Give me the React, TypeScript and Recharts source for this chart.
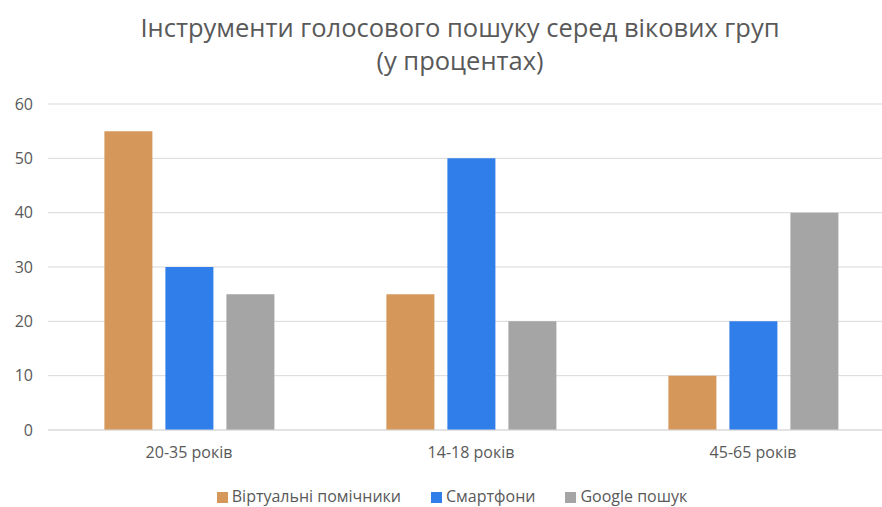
import { BarChart, Bar, XAxis, YAxis, Legend, CartesianGrid } from "recharts";

const categories = ["20-35 років", "14-18 років", "45-65 років"];
const virtualAssistants = [55, 25, 10];
const smartphones = [30, 50, 20];
const googleSearch = [25, 20, 40];
const yTicks = [0, 10, 20, 30, 40, 50, 60];

const data = categories.map((c, i) => ({
  name: c,
  va: virtualAssistants[i],
  sm: smartphones[i],
  gs: googleSearch[i],
}));

const font = "'Open Sans', 'Noto Sans', sans-serif";
const textColor = "#595959";

export default function App() {
  return (
    <div
      style={{
        position: "absolute",
        left: 0,
        top: 0,
        width: 882,
        height: 507,
        background: "#fff",
        fontFamily: font,
        overflow: "hidden",
      }}
    >
      <div
        style={{
          height: 90,
          textAlign: "center",
          color: textColor,
          fontSize: 25.5,
          lineHeight: "33px",
          paddingTop: 11,
          boxSizing: "border-box",
          paddingLeft: 38,
        }}
      >
        <div>Інструменти голосового пошуку серед вікових груп</div>
        <div>(у процентах)</div>
      </div>
      <BarChart
        width={882}
        height={417}
        data={data}
        margin={{ top: 14, right: -12, left: 0, bottom: 0 }}
        barCategoryGap="20%"
        barGap={13}
        style={{ overflow: "hidden" }}
      >
        <CartesianGrid vertical={false} stroke="#d9d9d9" />
        <XAxis
          dataKey="name"
          height={55}
          tickLine={false}
          axisLine={{ stroke: "#d9d9d9" }}
          tick={{ fill: textColor, fontSize: 16, fontFamily: font }}
          tickMargin={11}
        />
        <YAxis
          width={48}
          domain={[0, 60]}
          ticks={yTicks}
          tickLine={false}
          axisLine={false}
          tick={{ fill: textColor, fontSize: 16, fontFamily: font }}
          tickMargin={9}
        />
        <Legend
          verticalAlign="bottom"
          iconType="square"
          iconSize={11}
          itemSorter={null}
          wrapperStyle={{ fontFamily: font, fontSize: 16, paddingLeft: 20 }}
          formatter={(value) => (
            <span style={{ color: textColor, marginRight: 20 }}>{value}</span>
          )}
        />
        <Bar dataKey="va" name="Віртуальні помічники" fill="#D5975A" isAnimationActive={false} />
        <Bar dataKey="sm" name="Смартфони" fill="#2F7EEA" isAnimationActive={false} />
        <Bar dataKey="gs" name="Google пошук" fill="#A5A5A5" isAnimationActive={false} />
      </BarChart>
    </div>
  );
}
